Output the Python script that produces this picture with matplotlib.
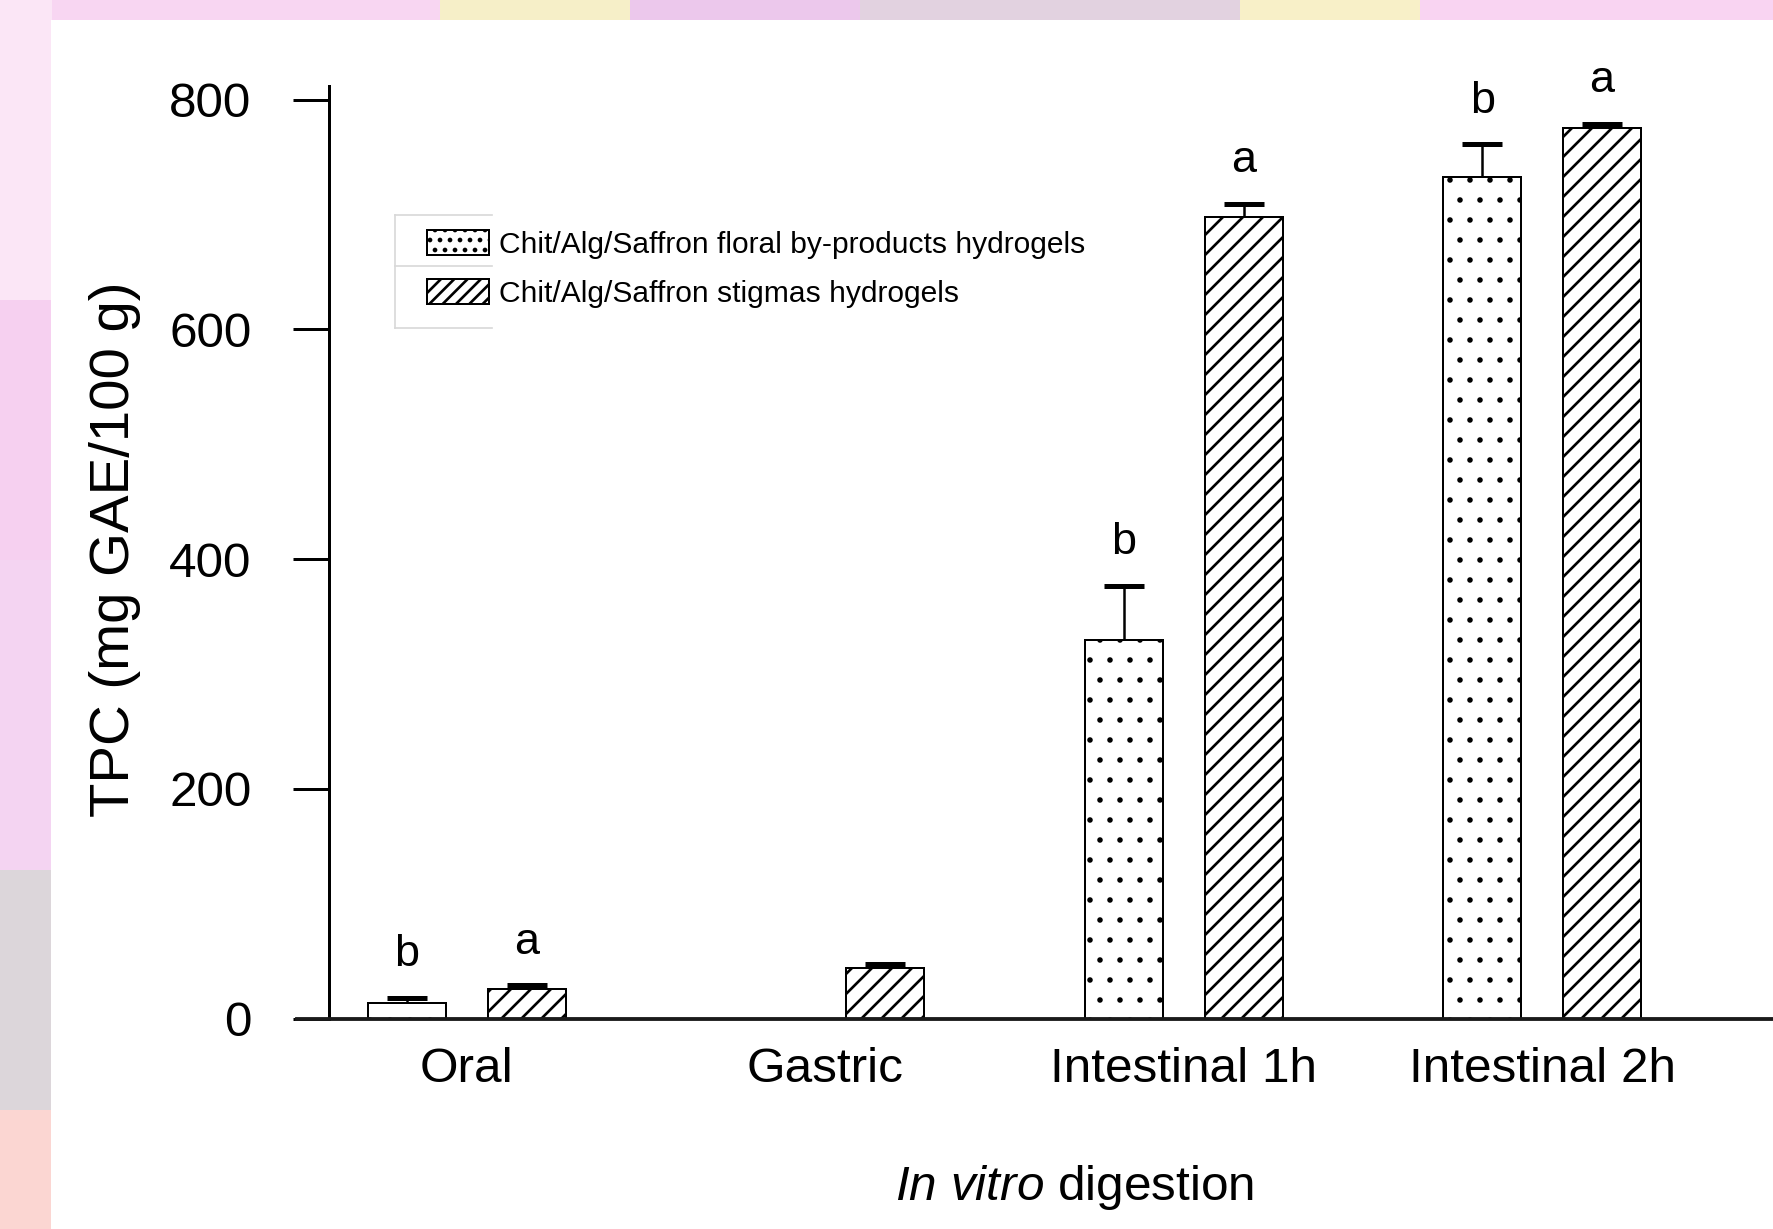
import numpy as np
import matplotlib
matplotlib.use('Agg')
import matplotlib.pyplot as plt
from matplotlib.patches import Rectangle, Patch
from matplotlib.lines import Line2D
from matplotlib import font_manager

# ---------------- data ----------------
categories = ['Oral', 'Gastric', 'Intestinal 1h', 'Intestinal 2h']
series_names = ['Chit/Alg/Saffron floral by-products hydrogels',
                'Chit/Alg/Saffron stigmas hydrogels']
floral_vals = [14, np.nan, 330, 733]
floral_err = [4, np.nan, 47, 28]
stigma_vals = [26, 44, 698, 775]
stigma_err = [3, 4, 11, 4]
floral_letters = ['b', '', 'b', 'b']
stigma_letters = ['a', '', 'a', 'a']
yticks = [0, 200, 400, 600, 800]
ylabel = 'TPC (mg GAE/100 g)'

# ---------------- fonts ----------------
names = {f.name for f in font_manager.fontManager.ttflist}
if 'Liberation Sans Narrow' in names:
    NARROW = 'Liberation Sans Narrow'
    nscale = 1.0
else:
    NARROW = 'Liberation Sans'
    nscale = 0.9
REG = 'Liberation Sans'
plt.rcParams['font.family'] = [REG, 'DejaVu Sans']
plt.rcParams['mathtext.fontset'] = 'custom'
plt.rcParams['mathtext.rm'] = NARROW
plt.rcParams['mathtext.it'] = NARROW + ':italic'
plt.rcParams['hatch.linewidth'] = 1.6

DPI = 120
W, H = 1773, 1229
fig = plt.figure(figsize=(W / DPI, H / DPI), dpi=DPI, facecolor='#f7d8f0')


def frect(x0, y0, x1, y1, color, z=-10):
    # pixel box (top-left origin) -> figure fraction rectangle
    r = Rectangle((x0 / W, 1 - y1 / H), (x1 - x0) / W, (y1 - y0) / H,
                  transform=fig.transFigure, facecolor=color, edgecolor='none',
                  zorder=z)
    fig.add_artist(r)


# blurred background decoration
frect(0, 0, W, 22, '#f8d6f2')
frect(440, 0, 630, 22, '#f6efc8')
frect(630, 0, 860, 22, '#ecc8ec')
frect(860, 0, 1240, 22, '#e2d2e0')
frect(1240, 0, 1420, 22, '#f8f0c8')
frect(1420, 0, W, 22, '#f9d4f2')
frect(0, 0, 52, 300, '#fbe6f6')
frect(0, 300, 52, 560, '#f6d0f0')
frect(0, 560, 52, 870, '#f4d4f2')
frect(0, 870, 52, 1110, '#dcd6da')
frect(0, 1110, 52, H, '#fbd6d2')
frect(51, 20, W, H, 'white', z=-5)

# ---------------- axes ----------------
ax_left, ax_bottom_px, ax_h_px = 297.4, 1018.8, 933.0
ax = fig.add_axes([ax_left / W, 1 - ax_bottom_px / H, 1 - ax_left / W, ax_h_px / H])
ax.patch.set_alpha(0)
ax.set_xlim(-0.473, 3.644)
ax.set_ylim(0, 812)

for s in ['top', 'right']:
    ax.spines[s].set_visible(False)
ax.spines['left'].set_position(('data', -0.385))
ax.spines['left'].set_linewidth(1.8)
ax.spines['bottom'].set_linewidth(2.3)
ax.spines['bottom'].set_color('#1a1a1a')
ax.spines['bottom'].set_zorder(5)

x = np.arange(len(categories))
off = 0.167
bw = 0.218


def draw_series(xpos, vals, errs, hatch, hlw):
    vals = np.asarray(vals, float)
    errs = np.asarray(errs, float)
    ok = ~np.isnan(vals)
    bars = ax.bar(xpos[ok], vals[ok], bw, color='white', edgecolor='black',
                  linewidth=1.2, hatch=hatch, zorder=3)
    for b in bars.patches:
        if hasattr(b, 'set_hatch_linewidth'):
            b.set_hatch_linewidth(hlw)
    # upper error bars only (no cap at the bar top)
    ax.vlines(xpos[ok], vals[ok], vals[ok] + errs[ok], colors='black',
              linewidth=1.5, zorder=4)
    ax.plot(xpos[ok], vals[ok] + errs[ok], linestyle='none', marker='_',
            markersize=24, markeredgewidth=3.0, color='black', zorder=4,
            clip_on=False)
    return bars


draw_series(x - off, floral_vals, floral_err, '.', 0.9)
draw_series(x + off, stigma_vals, stigma_err, '//', 1.6)

for xs, vals, errs, letters in [(x - off, floral_vals, floral_err, floral_letters),
                                 (x + off, stigma_vals, stigma_err, stigma_letters)]:
    for xi, v, e, t in zip(xs, vals, errs, letters):
        if not t:
            continue
        ax.annotate(t, xy=(xi, v + e), xytext=(0, 19), textcoords='offset points',
                    ha='center', va='baseline', fontsize=30 * nscale,
                    family=NARROW, annotation_clip=False)

ax.set_yticks(yticks)
ax.set_yticklabels([str(v) for v in yticks], family=NARROW)
ax.tick_params(axis='y', length=21.6, width=1.8, pad=25, labelsize=33 * nscale)
ax.set_xticks(x)
ax.set_xticklabels(categories, family=NARROW)
ax.tick_params(axis='x', length=0, pad=17, labelsize=33 * nscale)

ax.set_ylabel(ylabel, fontsize=33.8, family=REG)
ax.yaxis.set_label_coords(-0.106, 0.503)
ax.set_xlabel(r'$\mathit{In\ vitro}$ digestion', fontsize=33 * nscale, family=NARROW)
ax.xaxis.set_label_coords(0.527, -0.155)

# ---------------- legend ----------------
handles = [Patch(facecolor='white', edgecolor='black', hatch='..', linewidth=1.2),
           Patch(facecolor='white', edgecolor='black', hatch='///', linewidth=1.2)]
leg = fig.legend(handles, series_names, loc='upper left',
                 bbox_to_anchor=(427 / W, 1 - 230 / H), frameon=False,
                 prop={'family': REG, 'size': 18.0}, handlelength=2.05,
                 handleheight=0.88, handletextpad=0.36, labelspacing=0.68,
                 borderpad=0, borderaxespad=0)

# legend grid lines (light gray)
gl = dict(transform=fig.transFigure, color='#d8d8d8', lw=1.0)
lx0, lx1 = 394.6 / W, 491.8 / W
for yy in [214.8, 265.7, 327.9]:
    fig.add_artist(Line2D([lx0, lx1], [1 - yy / H, 1 - yy / H], **gl))
fig.add_artist(Line2D([lx0, lx0], [1 - 214.8 / H, 1 - 327.9 / H], **gl))

fig.savefig('out.png', dpi=DPI, facecolor=fig.get_facecolor())
